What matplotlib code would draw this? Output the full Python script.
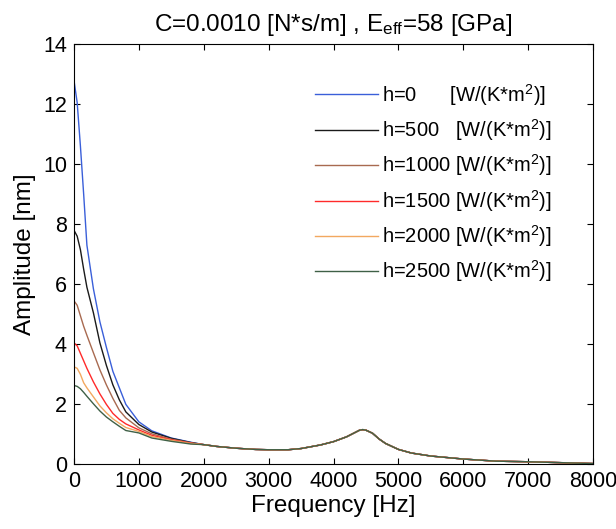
import matplotlib
matplotlib.use("Agg")
import matplotlib.pyplot as plt
import numpy as np

plt.rcParams["font.family"] = ["Liberation Sans", "DejaVu Sans"]
plt.rcParams["mathtext.fontset"] = "custom"
plt.rcParams["mathtext.rm"] = "Liberation Sans"
plt.rcParams["mathtext.it"] = "Liberation Sans"

# low-frequency part (differs per h), Hz
freq_low = [0, 50, 100, 150, 200, 300, 400, 500, 600, 700, 800, 1000, 1200, 1500, 1800]

amp_h0 = [12.8, 12.05, 10.6, 9.0, 7.3, 5.85, 4.75, 3.9, 3.1, 2.55, 2.0, 1.42, 1.12, 0.88, 0.74]
amp_h500 = [7.8, 7.6, 7.15, 6.5, 5.9, 5.05, 4.05, 3.3, 2.65, 2.15, 1.75, 1.33, 1.08, 0.87, 0.73]
amp_h1000 = [5.45, 5.3, 4.95, 4.6, 4.3, 3.72, 3.15, 2.65, 2.2, 1.8, 1.55, 1.22, 1.02, 0.84, 0.72]
amp_h1500 = [4.05, 3.95, 3.7, 3.45, 3.2, 2.75, 2.35, 2.0, 1.7, 1.5, 1.35, 1.15, 0.97, 0.82, 0.71]
amp_h2000 = [3.25, 3.2, 3.0, 2.72, 2.55, 2.25, 1.95, 1.72, 1.52, 1.37, 1.23, 1.1, 0.93, 0.8, 0.7]
amp_h2500 = [2.63, 2.6, 2.52, 2.4, 2.27, 2.02, 1.78, 1.58, 1.42, 1.27, 1.13, 1.05, 0.88, 0.77, 0.68]

# common part above 2 kHz (all curves coincide)
freq_tail = [2000, 2200, 2500, 2800, 3000, 3300, 3500, 3800, 4000, 4200, 4300,
             4400, 4450, 4500, 4600, 4700, 4800, 5000, 5200, 5500, 6000, 6500,
             7000, 7500, 8000]
amp_tail = [0.66, 0.6, 0.54, 0.5, 0.49, 0.49, 0.53, 0.65, 0.76, 0.92, 1.03,
            1.14, 1.16, 1.14, 1.04, 0.85, 0.7, 0.5, 0.38, 0.28, 0.18, 0.11,
            0.09, 0.06, 0.03]

labels = [
    r"h=0      [W/(K*m$^2$)]",
    r"h=500   [W/(K*m$^2$)]",
    r"h=1000 [W/(K*m$^2$)]",
    r"h=1500 [W/(K*m$^2$)]",
    r"h=2000 [W/(K*m$^2$)]",
    r"h=2500 [W/(K*m$^2$)]",
]
series = [amp_h0, amp_h500, amp_h1000, amp_h1500, amp_h2000, amp_h2500]
colors = ["#3a5fd9", "#1a1a1a", "#a86a50", "#ff2a2a", "#f2a860", "#3f6046"]

fig = plt.figure(figsize=(6.16, 5.29), dpi=100)
ax = fig.add_axes([0.120, 0.122, 0.843, 0.795])

for amp, col, lab in zip(series, colors, labels):
    f = np.concatenate([freq_low, freq_tail])
    a = np.concatenate([amp, amp_tail])
    ax.plot(f, a, color=col, linewidth=1.0, label=lab)

ax.set_xlim(0, 8000)
ax.set_ylim(0, 14)
ax.set_xticks(range(0, 8001, 1000))
ax.set_yticks(range(0, 15, 2))
ax.tick_params(direction="in", top=True, right=True, labelsize=15.5, length=4, pad=5)
for sp in ax.spines.values():
    sp.set_linewidth(0.8)

ax.set_xlabel("Frequency [Hz]", fontsize=17.5, labelpad=2)
ax.set_ylabel("Amplitude [nm]", fontsize=17.5, labelpad=5)
ax.set_title(r"C=0.0010 [N*s/m] , E$_{\mathrm{eff}}$=58 [GPa]", fontsize=17.5, pad=9)

ax.legend(loc="upper left", bbox_to_anchor=(0.464, 0.91), frameon=False,
          fontsize=14.5, handlelength=3.15, handletextpad=0.2,
          labelspacing=0.47, borderpad=0, borderaxespad=0)

fig.savefig("out.png", dpi=100)
